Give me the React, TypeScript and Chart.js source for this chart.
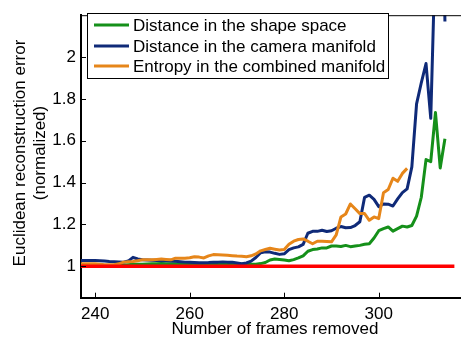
import React, { useEffect, useRef } from "react";
import { Chart, registerables } from "chart.js";

Chart.register(...registerables);

const FONT = "'Liberation Sans', Arial, sans-serif";

const xTicks = [240, 260, 280, 300];
const yTicks = [1, 1.2, 1.4, 1.6, 1.8, 2];

const shapeFrames = Array.from({ length: 78 }, (_, i) => 237 + i);
const shapeSpace = [
  1.005, 1.005, 1.005, 1.005, 1.005, 1.004, 1.004, 1.004, 1.005, 1.006,
  1.008, 1.01, 1.01, 1.01, 1.011, 1.012, 1.012, 1.013, 1.012, 1.012,
  1.012, 1.011, 1.011, 1.01, 1.01, 1.01, 1.01, 1.01, 1.011, 1.012,
  1.012, 1.012, 1.011, 1.01, 1.01, 1.01, 1.01, 1.01, 1.013, 1.018,
  1.03, 1.035, 1.033, 1.03, 1.027, 1.032, 1.04, 1.05, 1.072, 1.08,
  1.083, 1.088, 1.088, 1.097, 1.097, 1.095, 1.1, 1.094, 1.097, 1.1,
  1.105, 1.108, 1.135, 1.17, 1.18, 1.188, 1.168, 1.18, 1.192, 1.188,
  1.195, 1.24, 1.33, 1.51, 1.5, 1.735, 1.47, 1.61,
];

const cameraFrames = Array.from({ length: 78 }, (_, i) => 237 + i);
const cameraManifold = [
  1.028, 1.028, 1.028, 1.028, 1.027, 1.025, 1.023, 1.022, 1.021, 1.02,
  1.025, 1.043, 1.035, 1.031, 1.03, 1.029, 1.028, 1.027, 1.026, 1.025,
  1.024, 1.022, 1.02, 1.019, 1.018, 1.017, 1.017, 1.018, 1.02, 1.02,
  1.021, 1.02, 1.02, 1.016, 1.012, 1.016, 1.025, 1.042, 1.065, 1.07,
  1.068, 1.062, 1.057, 1.06, 1.08, 1.088, 1.093, 1.105, 1.158, 1.167,
  1.167, 1.172, 1.166, 1.17, 1.182, 1.19, 1.184, 1.185, 1.195, 1.213,
  1.33, 1.34, 1.32, 1.285, 1.298, 1.297, 1.288, 1.322, 1.352, 1.37,
  1.475, 1.776, 1.877, 1.969, 1.707, 2.53, 3.6, 2.17,
];

const entropyFrames = Array.from({ length: 70 }, (_, i) => 237 + i);
const entropyCombined = [
  1.012, 1.012, 1.012, 1.012, 1.01, 1.008, 1.008, 1.008, 1.012, 1.02,
  1.022, 1.023, 1.027, 1.031, 1.031, 1.031, 1.033, 1.035, 1.033, 1.031,
  1.039, 1.039, 1.039, 1.041, 1.046, 1.044, 1.04, 1.05, 1.056, 1.055,
  1.054, 1.053, 1.051, 1.049, 1.048, 1.046, 1.05, 1.059, 1.074, 1.08,
  1.086, 1.082, 1.078, 1.08, 1.105, 1.12, 1.128, 1.131, 1.12, 1.108,
  1.12, 1.12, 1.119, 1.117, 1.15, 1.236, 1.25, 1.298, 1.275, 1.252,
  1.252, 1.22, 1.236, 1.228, 1.352, 1.367, 1.421, 1.406, 1.444, 1.468,
];

const baselineFrames = [237, 316];
const baseline = [1, 1];

const seriesLabels = [
  "Distance in the shape space",
  "Distance in the camera manifold",
  "Entropy in the combined manifold",
];
const seriesColors = ["#15901a", "#0f2a78", "#e6861a"];

const toPts = (xs: number[], ys: number[]) => xs.map((x, i) => ({ x, y: ys[i] }));

const decorPlugin = {
  id: "decor",
  afterDraw(chart: any) {
    const { ctx, chartArea, scales } = chart;
    const xs = scales.x;
    const ys = scales.y;
    ctx.save();
    // top border
    ctx.strokeStyle = "#000";
    ctx.lineWidth = 1;
    ctx.beginPath();
    ctx.moveTo(chartArea.left, chartArea.top + 0.5);
    ctx.lineTo(chartArea.right, chartArea.top + 0.5);
    ctx.stroke();
    // inward ticks
    ctx.beginPath();
    yTicks.forEach((v) => {
      const y = Math.round(ys.getPixelForValue(v)) + 0.5;
      ctx.moveTo(chartArea.left, y);
      ctx.lineTo(chartArea.left + 5, y);
    });
    xTicks.forEach((v) => {
      const x = Math.round(xs.getPixelForValue(v)) + 0.5;
      ctx.moveTo(x, chartArea.bottom);
      ctx.lineTo(x, chartArea.bottom - 5);
      ctx.moveTo(x, chartArea.top);
      ctx.lineTo(x, chartArea.top + 5);
    });
    ctx.stroke();

    // legend
    const lx = 87.5, ly = 13.5, lw = 301, lh = 65;
    ctx.fillStyle = "#fff";
    ctx.fillRect(lx, ly, lw, lh);
    ctx.strokeStyle = "#000";
    ctx.lineWidth = 1;
    ctx.strokeRect(lx, ly, lw, lh);
    ctx.font = `17px ${FONT}`;
    ctx.textBaseline = "middle";
    ctx.textAlign = "left";
    const rows = [25, 46, 66];
    seriesLabels.forEach((lab, i) => {
      ctx.strokeStyle = seriesColors[i];
      ctx.lineWidth = 3;
      ctx.beginPath();
      ctx.moveTo(94, rows[i]);
      ctx.lineTo(129, rows[i]);
      ctx.stroke();
      ctx.fillStyle = "#000";
      ctx.fillText(lab, 133, rows[i] + 1);
    });

    // axis titles
    ctx.fillStyle = "#000";
    ctx.textAlign = "center";
    ctx.textBaseline = "middle";
    ctx.fillText("Number of frames removed", 275, 329);
    ctx.translate(20, 153);
    ctx.rotate(-Math.PI / 2);
    ctx.fillText("Euclidean reconstruction error", 0, 0);
    ctx.fillText("(normalized)", 0, 20);
    ctx.restore();
  },
};

export default function App() {
  const ref = useRef<HTMLCanvasElement>(null);
  useEffect(() => {
    if (!ref.current) return;
    const chart = new Chart(ref.current, {
      type: "line",
      data: {
        datasets: [
          {
            label: seriesLabels[0],
            data: toPts(shapeFrames, shapeSpace),
            borderColor: seriesColors[0],
            order: 4,
          },
          {
            label: seriesLabels[1],
            data: toPts(cameraFrames, cameraManifold),
            borderColor: seriesColors[1],
            order: 3,
          },
          {
            label: seriesLabels[2],
            data: toPts(entropyFrames, entropyCombined),
            borderColor: seriesColors[2],
            order: 2,
          },
          {
            label: "baseline",
            data: toPts(baselineFrames, baseline),
            borderColor: "#ff0000",
            borderWidth: 3.5,
            order: 1,
          },
        ],
      },
      options: {
        responsive: false,
        animation: false,
        layout: { padding: { top: 7, right: 0, left: 0, bottom: 0 } },
        elements: {
          point: { radius: 0 },
          line: { borderWidth: 3, tension: 0, borderCapStyle: "butt", borderJoinStyle: "round" },
        },
        plugins: { legend: { display: false }, tooltip: { enabled: false } },
        scales: {
          x: {
            type: "linear",
            min: 237,
            max: 317.4,
            afterBuildTicks: (s: any) => {
              s.ticks = xTicks.map((v) => ({ value: v }));
            },
            afterFit: (s: any) => {
              s.height = 42.3;
            },
            grid: { display: false, drawTicks: false },
            border: { display: true, color: "#000", width: 2 },
            ticks: {
              padding: 6,
              color: "#000",
              font: { family: FONT, size: 17 },
              maxRotation: 0,
              callback: (v: any) => String(v),
            },
          },
          y: {
            type: "linear",
            min: 0.85,
            max: 2.2,
            afterBuildTicks: (s: any) => {
              s.ticks = yTicks.map((v) => ({ value: v }));
            },
            afterFit: (s: any) => {
              s.width = 81;
            },
            grid: { display: false, drawTicks: false },
            border: { display: true, color: "#000", width: 2 },
            ticks: {
              padding: 5,
              color: "#000",
              font: { family: FONT, size: 17 },
              callback: (v: any) => String(Math.round(v * 10) / 10),
            },
          },
        },
      },
      plugins: [decorPlugin],
    });
    return () => chart.destroy();
  }, []);
  return (
    <div style={{ position: "fixed", left: 0, top: 0, width: 461, height: 340, background: "#fff" }}>
      <canvas ref={ref} width={461} height={340} />
    </div>
  );
}
